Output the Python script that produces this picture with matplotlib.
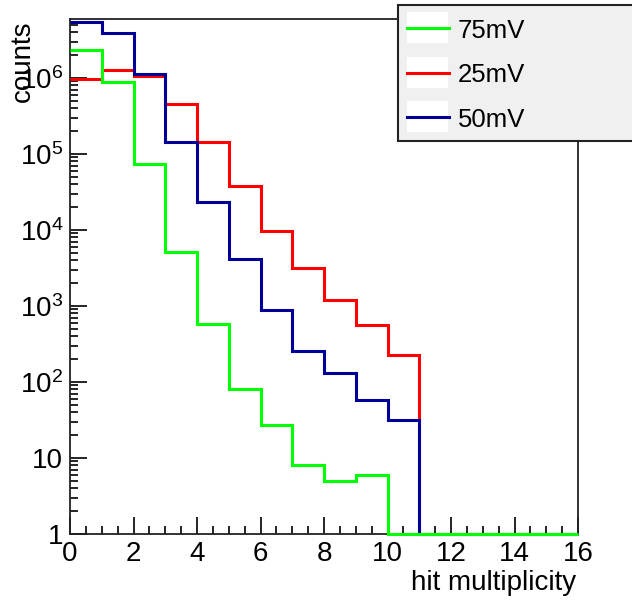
import numpy as np
import matplotlib
matplotlib.use("Agg")
import matplotlib.pyplot as plt
from matplotlib.patches import Rectangle
from matplotlib.lines import Line2D
from matplotlib.ticker import MultipleLocator, LogLocator, NullFormatter

plt.rcParams["font.family"] = ["Liberation Sans", "DejaVu Sans"]
plt.rcParams["mathtext.fontset"] = "custom"
plt.rcParams["mathtext.rm"] = "Liberation Sans"
plt.rcParams["mathtext.it"] = "Liberation Sans"

# hit multiplicity bins 0..16 (unit width)
bin_edges = np.arange(0, 17)

counts_25mV = [9.6e5, 1.25e6, 1.05e6, 4.57e5, 1.44e5, 3.75e4, 9.7e3, 3.15e3,
               1.21e3, 565, 226, 0, 0, 0, 0, 0]
counts_50mV = [5.4e6, 3.9e6, 1.12e6, 1.42e5, 2.33e4, 4.2e3, 870, 257,
               130, 57, 32, 0, 0, 0, 0, 0]
counts_75mV = [2.34e6, 8.7e5, 7.3e4, 5.07e3, 571, 80, 27, 8.0,
               5.0, 6.0, 0, 0, 0, 0, 0, 0]

series_labels = ["75mV", "25mV", "50mV"]
series_colors = {"25mV": "#ff0000", "50mV": "#000099", "75mV": "#00ff00"}
draw_order = ["25mV", "50mV", "75mV"]
series_counts = {"25mV": counts_25mV, "50mV": counts_50mV, "75mV": counts_75mV}

y_min, y_max = 1.0, 5.93e6

W, H = 632, 600
fig = plt.figure(figsize=(W / 100, H / 100), dpi=100)
ax = fig.add_axes([70 / W, 1 - 534 / H, (578 - 70) / W, (534 - 19) / H])

# empty bins sit on the lower edge of the frame, drawn over it
for i, name in enumerate(draw_order):
    vals = np.clip(np.asarray(series_counts[name], dtype=float), y_min, None)
    ax.stairs(vals, bin_edges, color=series_colors[name], linewidth=2.2,
              baseline=None, zorder=4 + i, clip_on=False)

ax.set_yscale("log")
ax.set_xlim(0, 16)
ax.set_ylim(y_min, y_max)

# axis ticks, drawn inward on the bottom and left only
ax.xaxis.set_major_locator(MultipleLocator(2))
ax.xaxis.set_minor_locator(MultipleLocator(0.5))
ax.yaxis.set_major_locator(LogLocator(base=10, numticks=10))
ax.yaxis.set_minor_locator(LogLocator(base=10, subs=np.arange(2, 10), numticks=20))
ax.yaxis.set_minor_formatter(NullFormatter())


def ylab(v, pos):
    e = int(round(np.log10(v)))
    if e == 0:
        return "1"
    if e == 1:
        return "10"
    return r"$\mathregular{10^{%d}}$" % e


ax.yaxis.set_major_formatter(plt.FuncFormatter(ylab))
ax.tick_params(which="both", direction="in", top=False, right=False,
               labelsize=20, colors="black", width=1.2)
ax.tick_params(which="major", length=12)
ax.tick_params(which="minor", length=6)
ax.tick_params(axis="x", which="major", pad=5)
ax.tick_params(axis="y", which="major", pad=5)
for sp in ax.spines.values():
    sp.set_linewidth(1.3)
    sp.set_color("#222222")

fig.text(576 / W, 1 - 590 / H, "hit multiplicity", fontsize=20,
         ha="right", va="baseline")
fig.text(30 / W, 1 - 20 / H, "counts", fontsize=20, rotation=90,
         rotation_mode="anchor", ha="right", va="baseline")

# legend box in the top-right corner
fig.patches.append(Rectangle((398 / W, 1 - 141 / H), 300 / W, 136 / H,
                             transform=fig.transFigure, facecolor="#f0f0f0",
                             edgecolor="#222222", linewidth=1.5, zorder=5))
entry_y = [28, 73, 117]
for name, yc in zip(series_labels, entry_y):
    fig.patches.append(Rectangle((407 / W, 1 - (yc + 15) / H), 41 / W, 31 / H,
                                 transform=fig.transFigure, facecolor="white",
                                 edgecolor="none", zorder=6))
    fig.lines.append(Line2D([407 / W, 449 / W], [1 - yc / H, 1 - yc / H],
                            transform=fig.transFigure,
                            color=series_colors[name], linewidth=2.2, zorder=7))
    fig.text(458 / W, 1 - yc / H, name, fontsize=18.5, ha="left",
             va="center_baseline", zorder=8)

fig.savefig("out.png", dpi=100)
